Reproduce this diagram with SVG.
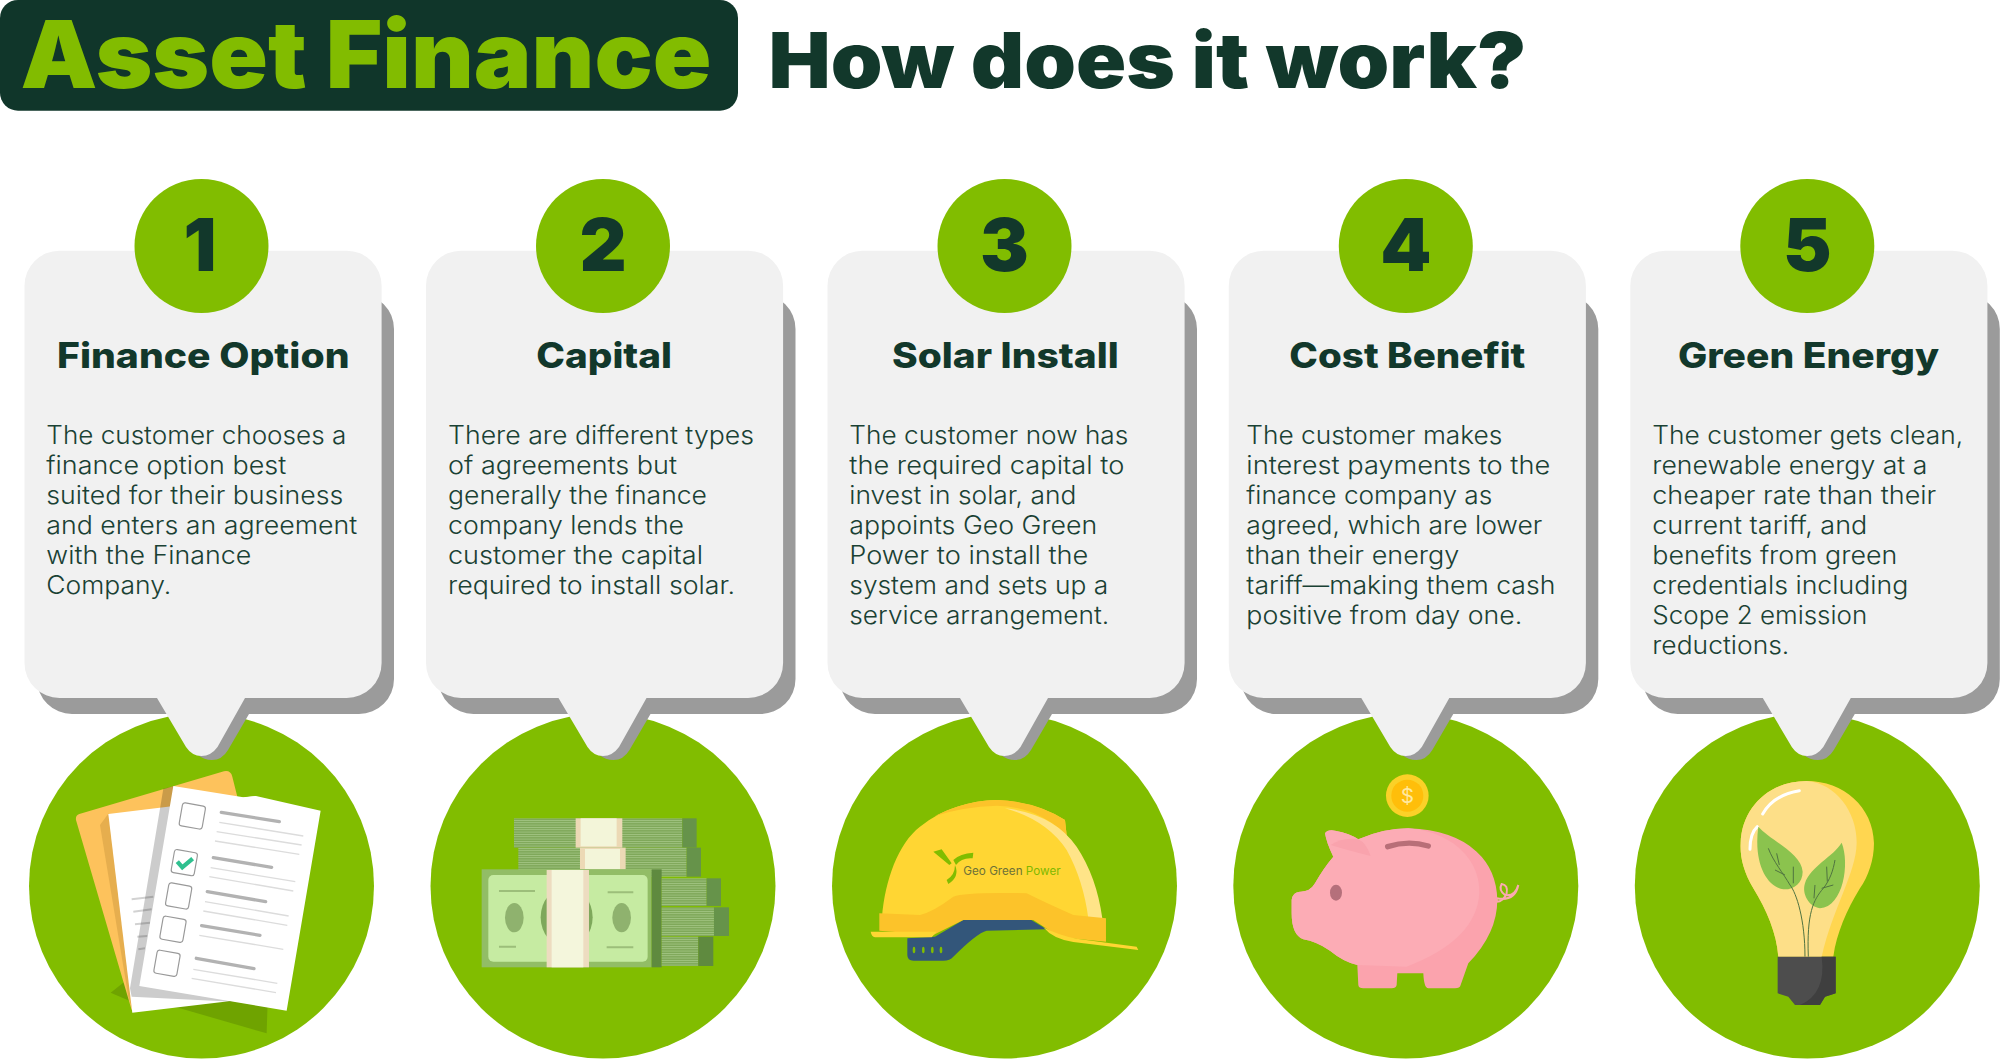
<svg xmlns="http://www.w3.org/2000/svg" width="2000" height="1059" viewBox="0 0 2000 1059">
<style>
text{font-family:Inter,"Noto Sans","Liberation Sans",sans-serif;fill:#12382b}
.h{font-weight:900;font-size:93px}
.h2{font-weight:900;font-size:77px}
.num{font-weight:900;font-size:73px;text-anchor:middle}
.t{font-weight:800;font-size:35px}
.b{font-weight:300;font-size:25px;fill:#1a4134}
.card{fill:#f1f1f1}.shade{fill:#9b9b9b}.disc{fill:#81bd00}
.ck{fill:#fff;stroke:#999;stroke-width:3.5}
.bar{stroke:#b2b2b2;stroke-width:10;stroke-linecap:round}
.ln{stroke:#dcdcdc;stroke-width:4}
.dk{fill:#66934a}
.vein{fill:none;stroke:#4f7240;stroke-width:3}
</style>
<defs>
<path id="cardshape" d="M59.5 250.700H346.600A35 35 0 0 1 381.600 285.700V663A35 35 0 0 1 346.600 698H245L217.500 747Q211 756 201.500 756Q192 756 186 747L157 698H59.500A35 35 0 0 1 24.500 663V285.700A35 35 0 0 1 59.500 250.700Z"/>
<path id="shadeshape" d="M37 294H359A35 35 0 0 1 394 329V679A35 35 0 0 1 359 714H249L228 750Q222 760 212 760Q204 760 198 755L170 714H72A35 35 0 0 1 37 679Z"/>
<pattern id="st" width="10" height="7" patternUnits="userSpaceOnUse"><rect width="10" height="7" fill="#7fa85a"/><rect width="10" height="2.500" fill="#a3c684"/></pattern>
</defs>
<rect width="2000" height="1059" fill="#fff"/>
<g id="header">
<rect x="0" y="0" width="738" height="110.700" rx="18" fill="#10362a"/>
<text class="h" x="20.500" y="88" textLength="691" lengthAdjust="spacingAndGlyphs" style="fill:#82bc00">Asset Finance</text>
<text class="h2" x="768.500" y="88" textLength="758" lengthAdjust="spacingAndGlyphs">How does it work?</text>
</g>

<g id="step1">
<circle class="disc" cx="201.500" cy="886" r="172.500"/>
<use href="#shadeshape" class="shade"/><use href="#cardshape" class="card"/>
<circle class="disc" cx="201.500" cy="246" r="67"/>
<text class="num" x="200" y="271">1</text>
<text class="t" x="57" y="368" textLength="292.500" lengthAdjust="spacingAndGlyphs">Finance Option</text>
<text class="b" x="46.300" y="444" textLength="300" lengthAdjust="spacingAndGlyphs">The customer chooses a</text>
<text class="b" x="46.300" y="474" textLength="240" lengthAdjust="spacingAndGlyphs">finance option best</text>
<text class="b" x="46.300" y="504" textLength="297" lengthAdjust="spacingAndGlyphs">suited for their business</text>
<text class="b" x="46.300" y="534" textLength="311" lengthAdjust="spacingAndGlyphs">and enters an agreement</text>
<text class="b" x="46.300" y="564" textLength="205" lengthAdjust="spacingAndGlyphs">with the Finance</text>
<text class="b" x="46.300" y="594" textLength="125" lengthAdjust="spacingAndGlyphs">Company.</text>
<g transform="translate(0 680) scale(.3333)">
<polygon points="332,938 380,900 805,900 800,1060 540,985 395,965" fill="#6fa300"/>
<path d="M238 402L672 274Q692 270 697 290L800 700L395 990L228 420Q226 406 238 402Z" fill="#fdc25c"/>
<polygon points="300,435 326,400 398,990 385,950" fill="#e6ae4e"/>
<polygon points="325,402 768,348 800,950 397,998" fill="#fff"/>
<g stroke="#d2d2d2" stroke-width="6"><path d="M395 658L460 650M400 695L455 688M405 733L450 728M412 770L442 768M415 808L435 805"/></g>
<polygon points="490,326 522,318 440,900 700,965 395,950 390,925" fill="#000" opacity=".2"/>
<polygon points="520,318 730,352 768,348 962,392 860,992 418,918" fill="#fff"/>
<g transform="rotate(10 577 408)"><rect class="ck" x="542" y="373" width="70" height="70" rx="8"/></g>
<g transform="rotate(10 553 548)"><rect class="ck" x="518" y="513" width="70" height="70" rx="8"/></g>
<g transform="rotate(10 536 648)"><rect class="ck" x="501" y="613" width="70" height="70" rx="8"/></g>
<g transform="rotate(10 519 748)"><rect class="ck" x="484" y="713" width="70" height="70" rx="8"/></g>
<g transform="rotate(10 501 850)"><rect class="ck" x="466" y="815" width="70" height="70" rx="8"/></g>
<path d="M532 545L547 562L578 536" fill="none" stroke="#2fc08f" stroke-width="13"/>
<g class="bar"><path d="M664 397L838 425M640 533L815 562M622 635L797 665M605 737L780 766M589 835L762 866"/></g>
<g class="ln"><path d="M658 427L910 468M650 455L905 495M645 483L898 523M632 563L886 605M628 590L880 633M615 665L866 708M610 693L862 736M598 766L850 808M580 868L832 910M575 895L828 938"/></g>
</g>
</g>

<g id="step2">
<g transform="translate(401.500 0)">
<circle class="disc" cx="201.500" cy="886" r="172.500"/>
<use href="#shadeshape" class="shade"/><use href="#cardshape" class="card"/>
<circle class="disc" cx="201.500" cy="246" r="67"/>
</g>
<text class="num" x="603" y="271">2</text>
<text class="t" x="536.300" y="368" textLength="135.700" lengthAdjust="spacingAndGlyphs">Capital</text>
<text class="b" x="448" y="444" textLength="306" lengthAdjust="spacingAndGlyphs">There are different types</text>
<text class="b" x="448" y="474" textLength="229" lengthAdjust="spacingAndGlyphs">of agreements but</text>
<text class="b" x="448" y="504" textLength="259" lengthAdjust="spacingAndGlyphs">generally the finance</text>
<text class="b" x="448" y="534" textLength="236" lengthAdjust="spacingAndGlyphs">company lends the</text>
<text class="b" x="448" y="564" textLength="255" lengthAdjust="spacingAndGlyphs">customer the capital</text>
<text class="b" x="448" y="594" textLength="287" lengthAdjust="spacingAndGlyphs">required to install solar.</text>
<g transform="translate(420 680) scale(.3333)">
<rect x="282" y="415" width="505" height="88" fill="url(#st)"/><rect class="dk" x="787" y="415" width="43" height="88"/>
<rect x="295" y="503" width="505" height="87" fill="url(#st)"/><rect class="dk" x="800" y="503" width="43" height="87"/>
<rect x="467" y="415" width="140" height="88" fill="#ecd9b5"/><rect x="482" y="415" width="108" height="84" fill="#f3f5d9"/>
<rect x="480" y="503" width="137" height="65" fill="#ecd9b5"/><rect x="495" y="507" width="105" height="60" fill="#f3f5d9"/>
<rect x="185" y="568" width="510" height="294" fill="#92bd66"/>
<rect x="695" y="568" width="30" height="294" fill="#5f8a3f"/>
<rect x="205" y="585" width="478" height="260" rx="15" fill="#c6eba2"/>
<ellipse cx="440" cy="712" rx="78" ry="90" fill="#7ea85b"/>
<ellipse cx="283" cy="713" rx="28" ry="44" fill="#8fb26e"/><ellipse cx="605" cy="713" rx="28" ry="44" fill="#8fb26e"/>
<path d="M237 633H345M237 800H288M563 637H640M560 802H640" stroke="#9cbe7a" stroke-width="6"/>
<rect x="380" y="570" width="127" height="292" fill="#eddcc0"/><rect x="395" y="570" width="95" height="292" fill="#f4f6dc"/>
<rect x="725" y="595" width="135" height="83" fill="url(#st)"/><rect class="dk" x="860" y="595" width="43" height="83"/>
<rect x="725" y="682" width="157" height="86" fill="url(#st)"/><rect class="dk" x="882" y="682" width="45" height="86"/>
<rect x="725" y="770" width="110" height="88" fill="url(#st)"/><rect x="835" y="770" width="45" height="88" fill="#5f8a3f"/>
</g>
</g>

<g id="step3">
<g transform="translate(803 0)">
<circle class="disc" cx="201.500" cy="886" r="172.500"/>
<use href="#shadeshape" class="shade"/><use href="#cardshape" class="card"/>
<circle class="disc" cx="201.500" cy="246" r="67"/>
</g>
<text class="num" x="1004.500" y="271">3</text>
<text class="t" x="892" y="368" textLength="226.700" lengthAdjust="spacingAndGlyphs">Solar Install</text>
<text class="b" x="849.300" y="444" textLength="279" lengthAdjust="spacingAndGlyphs">The customer now has</text>
<text class="b" x="849.300" y="474" textLength="275" lengthAdjust="spacingAndGlyphs">the required capital to</text>
<text class="b" x="849.300" y="504" textLength="227" lengthAdjust="spacingAndGlyphs">invest in solar, and</text>
<text class="b" x="849.300" y="534" textLength="248" lengthAdjust="spacingAndGlyphs">appoints Geo Green</text>
<text class="b" x="849.300" y="564" textLength="239" lengthAdjust="spacingAndGlyphs">Power to install the</text>
<text class="b" x="849.300" y="594" textLength="259" lengthAdjust="spacingAndGlyphs">system and sets up a</text>
<text class="b" x="849.300" y="624" textLength="260" lengthAdjust="spacingAndGlyphs">service arrangement.</text>
<g transform="translate(820 680) scale(.3333)">
<path d="M262 775L345 770L430 720L630 718L680 748L500 752Q470 760 400 830Q390 842 370 842H280Q262 842 262 825Z" fill="#33567a"/>
<g fill="#81bd00"><ellipse cx="282" cy="810" rx="4" ry="10"/><ellipse cx="310" cy="810" rx="4" ry="10"/><ellipse cx="337" cy="810" rx="4" ry="10"/><ellipse cx="363" cy="810" rx="4" ry="10"/></g>
<path d="M186 712C195 600 235 490 300 440C370 385 450 362 530 360Q650 365 735 420L740 465Q800 560 845 715H186Z" fill="#ffd633"/>
<path d="M345 408Q440 360 535 360Q650 365 735 420L740 465Q650 380 530 377Q430 380 345 408Z" fill="#fcc32a"/>
<path d="M555 385Q700 400 770 500Q830 590 847 715H805Q790 600 740 510Q680 420 555 385Z" fill="#ffe488"/>
<path d="M178 700L300 705Q340 695 400 650Q440 635 620 640Q680 670 760 705L858 715V785L720 772L640 720H430L340 765L178 752Z" fill="#fcc32a"/>
<path d="M152 755H350L335 772H165Q155 770 152 755ZM670 742Q720 768 770 776L950 800L955 810L760 786Q700 778 670 742Z" fill="#ffd633"/>
<path d="M340 515L365 508L395 550L388 555ZM400 540Q420 520 460 518L458 535Q425 532 408 555ZM405 555Q420 590 385 612L380 600Q405 585 405 555Z" fill="#81bd00"/>
<text x="430" y="585" font-size="34" textLength="292" lengthAdjust="spacingAndGlyphs" style="fill:#6c7038;font-weight:400">Geo Green <tspan style="fill:#7fb800">Power</tspan></text>
</g>
</g>

<g id="step4">
<g transform="translate(1204.300 0)">
<circle class="disc" cx="201.500" cy="886" r="172.500"/>
<use href="#shadeshape" class="shade"/><use href="#cardshape" class="card"/>
<circle class="disc" cx="201.500" cy="246" r="67"/>
</g>
<text class="num" x="1405.800" y="271">4</text>
<text class="t" x="1289.300" y="368" textLength="236" lengthAdjust="spacingAndGlyphs">Cost Benefit</text>
<text class="b" x="1246.300" y="444" textLength="256" lengthAdjust="spacingAndGlyphs">The customer makes</text>
<text class="b" x="1246.300" y="474" textLength="304" lengthAdjust="spacingAndGlyphs">interest payments to the</text>
<text class="b" x="1246.300" y="504" textLength="246" lengthAdjust="spacingAndGlyphs">finance company as</text>
<text class="b" x="1246.300" y="534" textLength="296" lengthAdjust="spacingAndGlyphs">agreed, which are lower</text>
<text class="b" x="1246.300" y="564" textLength="213" lengthAdjust="spacingAndGlyphs">than their energy</text>
<text class="b" x="1246.300" y="594" textLength="309" lengthAdjust="spacingAndGlyphs">tariff—making them cash</text>
<text class="b" x="1246.300" y="624" textLength="276" lengthAdjust="spacingAndGlyphs">positive from day one.</text>
<g transform="translate(1220 680) scale(.3333)">
<circle cx="562" cy="347" r="64" fill="#fbd128"/><circle cx="562" cy="347" r="48" fill="#ffbe0a"/>
<text x="562" y="370" font-size="62" text-anchor="middle" style="fill:#ffe9a0;font-weight:400">$</text>
<path d="M830 655Q885 665 895 615Q885 650 855 645Q835 630 845 612Q865 615 860 640Q850 665 830 665Z" fill="none" stroke="#fca9b2" stroke-width="6"/>
<path d="M215 660Q218 636 240 635Q270 636 285 610Q310 565 340 530Q320 490 315 460Q322 448 345 452Q390 460 415 478Q490 445 565 445Q700 450 770 515Q830 570 832 660Q832 760 745 850L722 915Q720 925 705 925H625Q612 925 610 880H532L530 915Q528 925 515 925H430Q416 925 415 915L412 855Q370 845 330 812Q290 785 250 778Q215 765 215 700Z" fill="#fba3ad"/>
<path d="M215 660Q218 636 240 635Q270 636 285 610Q310 565 340 530Q320 490 315 460Q322 448 345 452Q390 460 415 478Q490 445 565 445Q640 450 700 490Q780 550 778 640Q770 780 560 860L412 855Q370 845 330 812Q290 785 250 778Q215 765 215 700Z" fill="#fcacb5"/>
<path d="M332 495Q380 510 452 528Q440 490 415 478Q370 470 332 495Z" fill="#f9a3ad"/>
<path d="M503 500Q565 480 625 498" fill="none" stroke="#b86f78" stroke-width="16" stroke-linecap="round"/>
<ellipse cx="348" cy="638" rx="18" ry="24" fill="#b5707b"/>
</g>
</g>

<g id="step5">
<g transform="translate(1605.800 0)">
<circle class="disc" cx="201.500" cy="886" r="172.500"/>
<use href="#shadeshape" class="shade"/><use href="#cardshape" class="card"/>
<circle class="disc" cx="201.500" cy="246" r="67"/>
</g>
<text class="num" x="1807.300" y="271">5</text>
<text class="t" x="1678" y="368" textLength="261" lengthAdjust="spacingAndGlyphs">Green Energy</text>
<text class="b" x="1652.300" y="444" textLength="311" lengthAdjust="spacingAndGlyphs">The customer gets clean,</text>
<text class="b" x="1652.300" y="474" textLength="275" lengthAdjust="spacingAndGlyphs">renewable energy at a</text>
<text class="b" x="1652.300" y="504" textLength="284" lengthAdjust="spacingAndGlyphs">cheaper rate than their</text>
<text class="b" x="1652.300" y="534" textLength="215" lengthAdjust="spacingAndGlyphs">current tariff, and</text>
<text class="b" x="1652.300" y="564" textLength="245" lengthAdjust="spacingAndGlyphs">benefits from green</text>
<text class="b" x="1652.300" y="594" textLength="256" lengthAdjust="spacingAndGlyphs">credentials including</text>
<text class="b" x="1652.300" y="624" textLength="215" lengthAdjust="spacingAndGlyphs">Scope 2 emission</text>
<text class="b" x="1652.300" y="654" textLength="137" lengthAdjust="spacingAndGlyphs">reductions.</text>
<g transform="translate(1620 680) scale(.3333)">
<path d="M475 830C470 760 440 690 400 625C370 575 360 530 362 490C365 380 450 303 560 303C670 303 760 380 762 490C762 540 745 590 720 625C680 690 650 760 640 830Z" fill="#ffd650"/>
<path d="M475 830C470 760 440 690 400 625C370 575 360 530 362 490C365 380 450 303 560 303C650 310 712 400 710 490C708 580 640 680 605 830Z" fill="#fddf88"/>
<path d="M428 402Q460 345 538 332" fill="none" stroke="#fff" stroke-width="9" stroke-linecap="round"/>
<path d="M412 440Q390 460 390 508" fill="none" stroke="#fff" stroke-width="9" stroke-linecap="round"/>
<path d="M415 440C450 480 545 520 548 575C548 610 520 630 490 628C440 620 400 550 415 440Z" fill="#8bc34e"/>
<path d="M665 488C690 550 670 680 600 685C565 680 545 640 555 610C570 560 640 530 665 488Z" fill="#8bc34e"/>
<path class="vein" d="M555 830C555 720 530 640 510 615C490 580 460 545 445 505M465 570L495 585M470 520L478 555M520 560L520 610"/>
<path class="vein" d="M565 830C560 700 580 660 610 625C630 600 640 570 645 540M585 615L582 655M640 615L605 625M620 560L622 605"/>
<path d="M473 830H647V940L615 950L600 975H525L505 950L473 940Z" fill="#4d4d4d"/>
<path d="M605 830H647V940L615 950L600 975H540Q620 940 605 830Z" fill="#3f3f3f"/>
</g>
</g>
</svg>
